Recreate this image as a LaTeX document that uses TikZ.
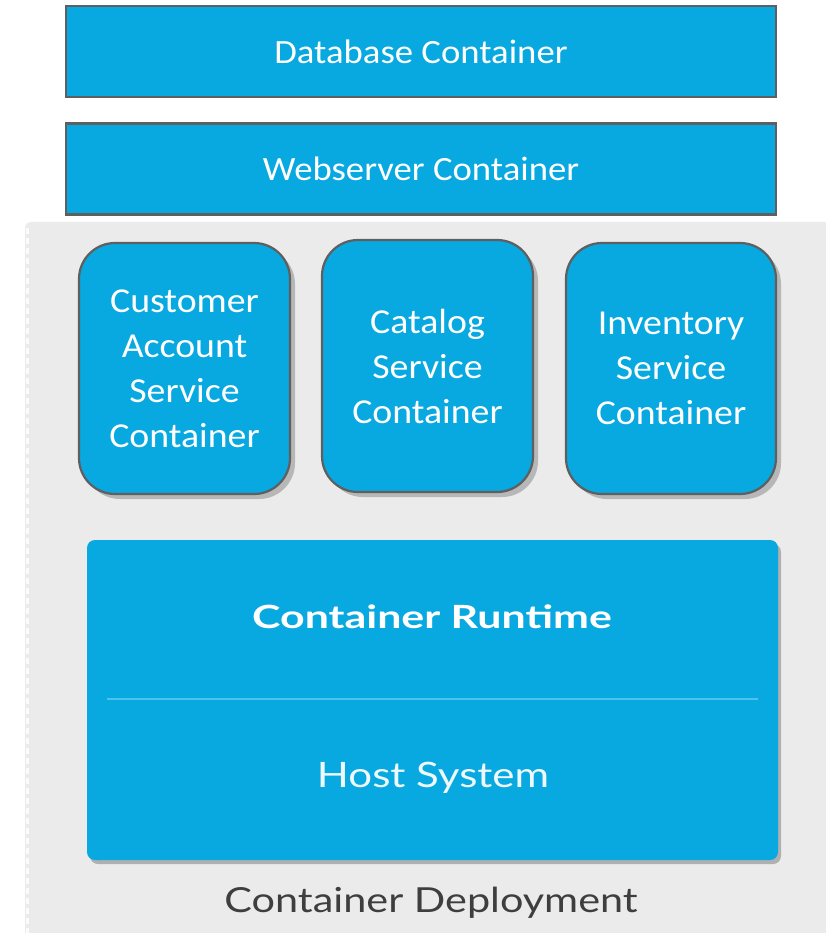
\documentclass[tikz,border=0pt]{standalone}
\usepackage{fontspec}
\setmainfont[FakeStretch=1.08]{Carlito}
\newfontfamily\avn[FakeStretch=1.2]{Lato}
\newfontfamily\avnb[FakeStretch=1.34]{Lato Bold}
\usetikzlibrary{shadows}
\definecolor{boxblue}{HTML}{08A8E0}
\definecolor{edgegray}{HTML}{5F5F5F}
\definecolor{bggray}{HTML}{EBEBEB}
\definecolor{divblue}{HTML}{4CC3EC}
\definecolor{labelgray}{HTML}{3E3E3E}
\tikzset{
  topbox/.style={rectangle, draw=edgegray, line width=2.5pt, fill=boxblue,
    minimum width=710pt, minimum height=91pt, inner sep=0pt, text=white,
    font=\fontsize{34}{40}\selectfont},
  svcbox/.style={rectangle, rounded corners=36pt, draw=edgegray, line width=2.2pt, fill=boxblue,
    minimum width=211pt, minimum height=251pt, inner sep=0pt, text=white, align=center,
    font=\fontsize{35}{45}\selectfont,
    drop shadow={shadow xshift=5pt, shadow yshift=-5pt, opacity=0.22, fill=black}},
  basebox/.style={rectangle, rounded corners=8pt, fill=boxblue,
    minimum width=691pt, minimum height=320pt, inner sep=0pt,
    drop shadow={shadow xshift=3pt, shadow yshift=-4pt, opacity=0.25, fill=black}},
}
\begin{document}
\begin{tikzpicture}[x=1pt,y=-1pt]
\useasboundingbox (0,0) rectangle (825,933);
\fill[white] (0,0) rectangle (825,933);
% gray deployment background
\fill[bggray, rounded corners=6pt] (25,222) rectangle (850,960);
\draw[white!80!bggray, line width=3pt, dash pattern=on 6pt off 4pt] (27,228) -- (27,933);

\node[topbox] (db) at (421,51.5) {Database Container};
\node[topbox] (web) at (421,169) {Webserver Container};

\node[svcbox] (cust) at (184.5,368.5) {Customer\\Account\\Service\\Container};
\node[svcbox, minimum height=252pt] (cat) at (427.5,366) {Catalog\\Service\\Container};
\node[svcbox, minimum width=210pt] (inv) at (671,368.5) {Inventory\\Service\\Container};

\node[basebox] (base) at (432.5,700) {};
\draw[divblue, line width=1.5pt] (107,699) -- (758,699);
\node[text=white, font=\avnb\fontsize{32}{36}\selectfont] (rt) at (432,617) {Container Runtime};
\node[text=white!93!boxblue, font=\avn\fontsize{35}{40}\selectfont] (host) at (433,778) {Host System};
\node[text=labelgray, font=\avn\fontsize{34.5}{40}\selectfont] (dep) at (431,903) {Container Deployment};
\end{tikzpicture}
\end{document}
